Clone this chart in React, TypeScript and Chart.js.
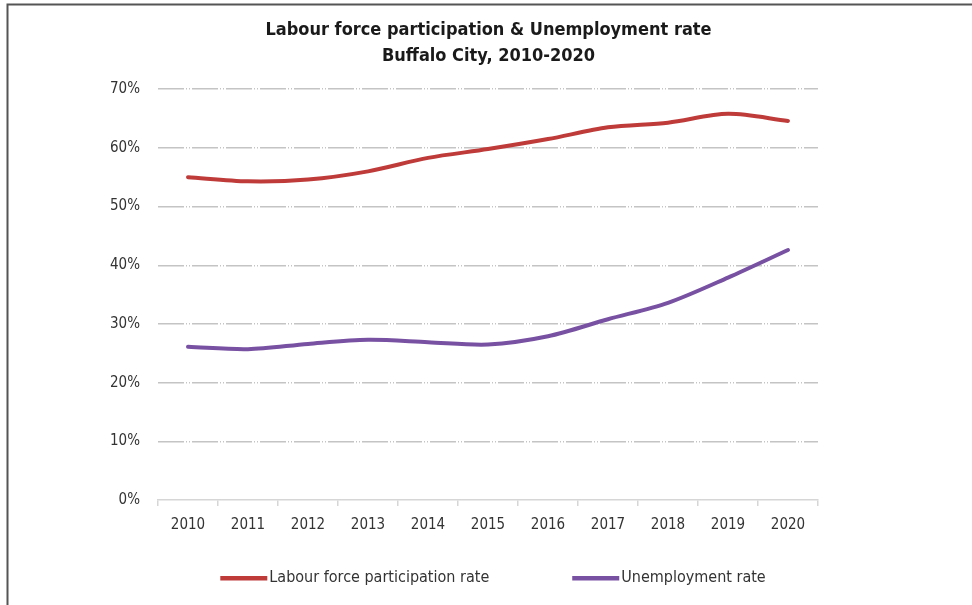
import React, { useEffect, useRef } from "react";
import { Chart, registerables } from "chart.js";

Chart.register(...registerables);

const years = ["2010", "2011", "2012", "2013", "2014", "2015", "2016", "2017", "2018", "2019", "2020"];
const labourForce = [55.0, 54.3, 54.6, 56.0, 58.3, 59.8, 61.5, 63.5, 64.3, 65.8, 64.6];
const unemployment = [26.1, 25.7, 26.6, 27.3, 26.9, 26.5, 27.9, 30.8, 33.6, 37.9, 42.6];
const seriesNames = ["Labour force participation rate", "Unemployment rate"];
const titleLines = ["Labour force participation & Unemployment rate", "Buffalo City, 2010-2020"];

const FONT = "'DejaVu Sans Condensed', 'Liberation Sans', sans-serif";
const RED = "#BE3B3A";
const PURPLE = "#7851A3";

const framePlugin = {
  id: "frame",
  beforeDraw(chart: any) {
    const ctx = chart.ctx;
    ctx.save();
    ctx.strokeStyle = "#555555";
    ctx.lineWidth = 2;
    ctx.beginPath();
    ctx.moveTo(7.5, 605);
    ctx.lineTo(7.5, 4.5);
    ctx.lineTo(972, 4.5);
    ctx.stroke();
    ctx.restore();
  },
};

const legendPlugin = {
  id: "customLegend",
  afterDraw(chart: any) {
    const ctx = chart.ctx;
    const ds = chart.data.datasets;
    ctx.save();
    ctx.font = `16px ${FONT}`;
    const swatch = 47;
    const gapText = 2;
    const gapItem = 83;
    const widths = ds.map((d: any) => swatch + gapText + ctx.measureText(d.label).width);
    const total = widths.reduce((a: number, b: number) => a + b, 0) + gapItem * (ds.length - 1);
    let x = 493 - total / 2;
    const y = 578;
    ctx.textBaseline = "middle";
    ctx.textAlign = "left";
    ds.forEach((d: any, i: number) => {
      ctx.fillStyle = d.borderColor;
      ctx.fillRect(x, y - 2, swatch, 4.5);
      ctx.fillStyle = "#333333";
      ctx.fillText(d.label, x + swatch + gapText, y);
      x += widths[i] + gapItem;
    });
    ctx.restore();
  },
};

export default function App() {
  const ref = useRef<HTMLCanvasElement>(null);
  useEffect(() => {
    if (!ref.current) return;
    Chart.defaults.font.family = FONT;
    const chart = new Chart(ref.current, {
      type: "line",
      data: {
        labels: years,
        datasets: [
          {
            label: seriesNames[0],
            data: labourForce,
            borderColor: RED,
            backgroundColor: RED,
            borderWidth: 4,
            pointRadius: 0,
            tension: 0.3,
            borderCapStyle: "round",
            yAxisID: "y",
          },
          {
            label: seriesNames[1],
            data: unemployment,
            borderColor: PURPLE,
            backgroundColor: PURPLE,
            borderWidth: 4,
            pointRadius: 0,
            tension: 0.3,
            borderCapStyle: "round",
            yAxisID: "y",
          },
        ],
      },
      options: {
        animation: false,
        responsive: true,
        maintainAspectRatio: false,
        layout: { padding: { left: 5, right: 0, top: 0, bottom: 60 } },
        plugins: {
          legend: { display: false },
          tooltip: { enabled: false },
          title: {
            display: true,
            text: titleLines,
            color: "#1a1a1a",
            font: { size: 18, weight: "bold", family: FONT, lineHeight: 1.45 },
            padding: { top: 17, bottom: 20 },
          },
        },
        scales: {
          x: {
            offset: true,
            grid: {
              display: true,
              offset: true,
              drawOnChartArea: false,
              drawTicks: true,
              tickLength: 6,
              color: "#d6d6d6",
              lineWidth: 1.5,
            },
            border: { display: true, color: "#d6d6d6", width: 1.5 },
            ticks: { color: "#333333", font: { size: 15 }, padding: 10, maxRotation: 0 },
            afterFit(s: any) {
              s.height = 45;
            },
          },
          y: {
            min: 0,
            max: 70,
            position: "left",
            grid: {
              drawTicks: false,
              color: (c: any) => (c.tick && c.tick.value === 0 ? "rgba(0,0,0,0)" : "#c4c4c4"),
              lineWidth: 1.5,
            },
            border: { display: false, dash: [26, 2, 1, 2, 1, 2] },
            ticks: {
              stepSize: 10,
              color: "#333333",
              font: { size: 15 },
              padding: 18,
              callback: (v: any) => v + "%",
            },
            afterFit(s: any) {
              s.width = 153;
            },
          },
          y2: {
            position: "right",
            display: true,
            grid: { display: false },
            border: { display: false },
            ticks: { display: false },
            afterFit(s: any) {
              s.width = 154;
            },
          },
        },
      },
      plugins: [framePlugin, legendPlugin],
    });
    return () => chart.destroy();
  }, []);
  return (
    <div style={{ position: "absolute", left: 0, top: 0, width: 972, height: 605, background: "#fff" }}>
      <canvas ref={ref} />
    </div>
  );
}
